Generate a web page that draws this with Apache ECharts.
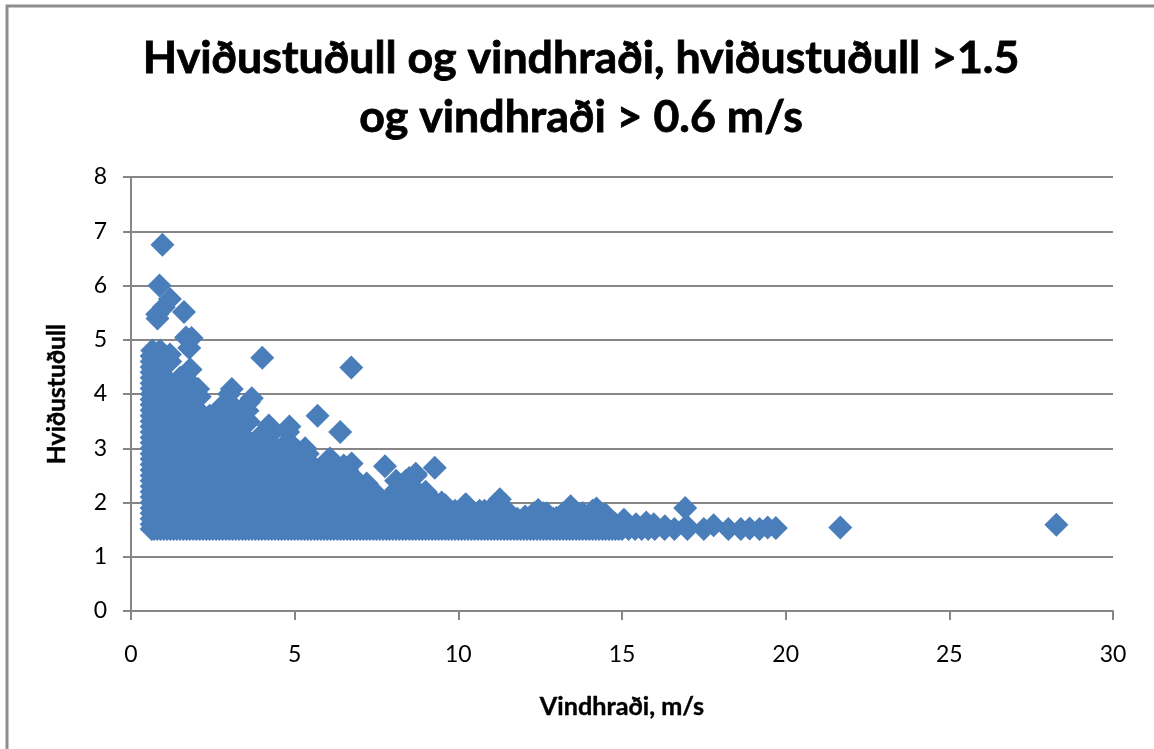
<!DOCTYPE html>
<html>
<head>
<meta charset="utf-8">
<style>
  html, body { margin: 0; padding: 0; background: #fff; overflow: hidden; }
  #chart { width: 1154px; height: 749px; }
</style>
<script src="https://cdn.jsdelivr.net/npm/echarts@6/dist/echarts.min.js"></script>
</head>
<body>
<div id="chart"></div>
<script>
const titleText = "Hviðustuðull og vindhraði, hviðustuðull >1.5\nog vindhraði > 0.6 m/s";
const xName = "Vindhraði, m/s";
const yName = "Hviðustuðull";

// wind speeds of the dense body, each with its own list of gust factors
const bodySpeeds = [0.9, 1.2, 1.5, 1.8, 2.1, 2.4, 2.7, 3.0, 3.3, 3.6, 3.9, 4.2, 4.5, 4.8, 5.1, 5.4, 5.7, 6.0, 6.3, 6.6, 6.9, 7.2, 7.5, 7.8, 8.1, 8.4, 8.7, 9.0, 9.3, 9.6, 9.9, 10.2, 10.5, 10.8, 11.1, 11.4, 11.7, 12.0, 12.3, 12.6, 12.9, 13.2, 13.5, 13.8, 14.1, 14.4, 14.7];
const bodyGusts = [
  [1.51, 1.87, 2.23, 2.59, 2.95, 3.31, 3.67, 4.03, 4.39, 4.72],
  [1.69, 2.05, 2.41, 2.77, 3.13, 3.49, 3.85, 4.21, 4.6],
  [1.51, 1.87, 2.23, 2.59, 2.95, 3.31, 3.67, 4.03, 4.3],
  [1.69, 2.05, 2.41, 2.77, 3.13, 3.49, 3.85, 4.21, 4.45],
  [1.51, 1.87, 2.23, 2.59, 2.95, 3.31, 3.67, 3.95],
  [1.69, 2.05, 2.41, 2.77, 3.13, 3.49, 3.6],
  [1.51, 1.87, 2.23, 2.59, 2.95, 3.31, 3.7],
  [1.69, 2.05, 2.41, 2.77, 3.13, 3.49, 3.85, 4.0],
  [1.51, 1.87, 2.23, 2.59, 2.95, 3.31, 3.6],
  [1.69, 2.05, 2.41, 2.77, 3.13, 3.49, 3.85],
  [1.51, 1.87, 2.23, 2.59, 2.95, 3.2],
  [1.69, 2.05, 2.41, 2.77, 3.13, 3.35],
  [1.51, 1.87, 2.23, 2.59, 2.95],
  [1.69, 2.05, 2.41, 2.77, 3.13, 3.3],
  [1.51, 1.87, 2.23, 2.59, 2.95],
  [1.69, 2.05, 2.41, 2.77, 2.9],
  [1.51, 1.87, 2.23, 2.59],
  [1.69, 2.05, 2.41, 2.77],
  [1.51, 1.87, 2.23, 2.59],
  [1.69, 2.05, 2.41, 2.6],
  [1.51, 1.87, 2.23, 2.4],
  [1.69, 2.05, 2.35],
  [1.51, 1.87, 2.15],
  [1.69, 2.0],
  [1.51, 1.87, 2.23, 2.4],
  [1.69, 2.05, 2.4],
  [1.51, 1.87, 2.23, 2.5],
  [1.69, 2.05, 2.2],
  [1.51, 1.87, 2.0],
  [1.69, 1.95],
  [1.51, 1.85],
  [1.69, 1.95],
  [1.51, 1.8],
  [1.69, 1.85],
  [1.51, 1.87, 1.95],
  [1.69, 1.9],
  [1.51, 1.7],
  [1.69],
  [1.51, 1.8],
  [1.69, 1.8],
  [1.51, 1.7],
  [1.69, 1.8],
  [1.51, 1.85],
  [1.69, 1.8],
  [1.51, 1.85],
  [1.69, 1.75],
  [1.51, 1.62]
];

// points along the left edge of the cloud, x about 0.63
const leftEdgeSpeed = 0.63;
const leftEdgeGusts = [1.51, 1.6, 1.7, 1.8, 1.9, 2.0, 2.1, 2.2, 2.3, 2.4, 2.5, 2.6, 2.7, 2.8, 2.9, 3.0, 3.1, 3.2, 3.3, 3.4, 3.5, 3.6, 3.7, 3.8, 3.9, 4.0, 4.1, 4.2, 4.3, 4.4, 4.5, 4.6, 4.7];

// points along the floor of the cloud, gust factor just above 1.5
const floorGust = 1.51;
const floorSpeeds = [0.7, 0.8, 1.0, 1.1, 1.2, 1.3, 1.4, 1.6, 1.7, 1.8, 1.9, 2.0, 2.2, 2.3, 2.4, 2.5, 2.6, 2.8, 2.9, 3.0, 3.1, 3.2, 3.4, 3.5, 3.6, 3.7, 3.8, 4.0, 4.1, 4.2, 4.3, 4.4, 4.6, 4.7, 4.8, 4.9, 5.0, 5.2, 5.3, 5.4, 5.5, 5.6, 5.8, 5.9, 6.0, 6.1, 6.2, 6.4, 6.5, 6.6, 6.7, 6.8, 7.0, 7.1, 7.2, 7.3, 7.4, 7.6, 7.7, 7.8, 7.9, 8.0, 8.2, 8.3, 8.4, 8.5, 8.6, 8.8, 8.9, 9.0, 9.1, 9.2, 9.4, 9.5, 9.6, 9.7, 9.8, 10.0, 10.1, 10.2, 10.3, 10.4, 10.6, 10.7, 10.8, 10.9, 11.0, 11.2, 11.3, 11.4, 11.5, 11.6, 11.8, 11.9, 12.0, 12.1, 12.2, 12.4, 12.5, 12.6, 12.7, 12.8, 13.0, 13.1, 13.2, 13.3, 13.4, 13.6, 13.7, 13.8, 13.9, 14.0, 14.2, 14.3, 14.4, 14.5, 14.6, 14.8, 14.9, 15.0, 15.2, 15.4, 15.6, 15.8, 16.0, 16.3, 16.6];

// single points that can be read on their own
const outliers = [
  [0.96, 6.75], [0.87, 6.0], [1.19, 5.75], [1.62, 5.51], [0.8, 5.47], [0.81, 5.39], [1.0, 5.6],
  [1.68, 5.04], [1.85, 5.03], [1.78, 4.85], [4.01, 4.67], [6.73, 4.49], [0.65, 4.8], [0.89, 4.8],
  [1.19, 4.73], [1.82, 4.45], [2.05, 4.09], [3.08, 4.09], [3.69, 3.92], [3.56, 3.69], [5.7, 3.6],
  [4.21, 3.42], [4.84, 3.4], [6.39, 3.3], [4.25, 3.25], [2.72, 3.74], [5.32, 3.0], [6.08, 2.81],
  [7.76, 2.67], [6.74, 2.72], [6.5, 2.68], [9.28, 2.64], [8.7, 2.53], [8.5, 2.45], [9.49, 2.0],
  [10.23, 1.97], [10.65, 1.85], [11.27, 2.06], [11.8, 1.7], [12.04, 1.74], [12.44, 1.86], [12.7, 1.8],
  [13.0, 1.72], [13.43, 1.93], [13.8, 1.8], [14.22, 1.89], [14.5, 1.78], [14.8, 1.6], [15.06, 1.68],
  [15.43, 1.6], [15.74, 1.63], [15.97, 1.6], [16.31, 1.56], [16.93, 1.9], [16.97, 1.57], [17.0, 1.51],
  [17.5, 1.51], [17.8, 1.58], [18.25, 1.51], [18.63, 1.51], [18.9, 1.52], [19.2, 1.51], [19.45, 1.54],
  [19.7, 1.53], [21.67, 1.54], [28.27, 1.59]
];

const points = [];
bodySpeeds.forEach((speed, i) => {
  bodyGusts[i].forEach((gust) => points.push([speed, gust]));
});
leftEdgeGusts.forEach((gust) => points.push([leftEdgeSpeed, gust]));
floorSpeeds.forEach((speed) => points.push([speed, floorGust]));
outliers.forEach((p) => points.push(p));

const lineColor = "#868686";
const fontName = "Lato, sans-serif";

const options = {
  animation: false,
  backgroundColor: "#fff",
  textStyle: { fontFamily: fontName },
  title: {
    text: titleText,
    left: 576,
    top: 24,
    textAlign: "center",
    textStyle: {
      fontFamily: fontName,
      fontSize: 44.7,
      fontWeight: "bold",
      color: "#000",
      lineHeight: 59,
      textBorderColor: "#000",
      textBorderWidth: 0.8,
    },
  },
  grid: { left: 131, right: 41, top: 177, bottom: 138 },
  xAxis: {
    type: "value",
    min: 0,
    max: 30,
    interval: 5,
    name: xName,
    nameLocation: "middle",
    nameGap: 83,
    nameTextStyle: { fontFamily: fontName, fontSize: 25.2, fontWeight: "bold", color: "#000", textBorderColor: "#000", textBorderWidth: 0.4 },
    axisLine: { onZero: false, lineStyle: { color: lineColor, width: 2 } },
    axisTick: { show: true, length: 9, lineStyle: { color: lineColor, width: 2 } },
    axisLabel: { fontFamily: fontName, fontSize: 23, color: "#000", margin: 32 },
    splitLine: { show: false },
  },
  yAxis: {
    type: "value",
    min: 0,
    max: 8,
    interval: 1,
    name: yName,
    nameLocation: "middle",
    nameGap: 61,
    nameTextStyle: { fontFamily: fontName, fontSize: 24.7, fontWeight: "bold", color: "#000", textBorderColor: "#000", textBorderWidth: 0.4 },
    axisLine: { show: true, lineStyle: { color: lineColor, width: 2 } },
    axisTick: { show: true, length: 8, lineStyle: { color: lineColor, width: 2 } },
    axisLabel: { fontFamily: fontName, fontSize: 23, color: "#000", margin: 24 },
    splitLine: { show: true, lineStyle: { color: lineColor, width: 2 } },
  },
  // frame of the original chart area, only its left and top sides are in the picture
  graphic: [
    {
      type: "rect",
      silent: true,
      shape: { x: 7, y: 6, width: 1300, height: 900 },
      style: { fill: "none", stroke: "#8e8e8e", lineWidth: 3 },
    },
  ],
  series: [
    {
      type: "scatter",
      data: points,
      symbol: "diamond",
      symbolSize: 24,
      itemStyle: { color: "#4a7ebb", opacity: 1 },
    },
  ],
};

const chart = echarts.init(document.getElementById("chart"));
chart.setOption(options);
</script>
</body>
</html>
